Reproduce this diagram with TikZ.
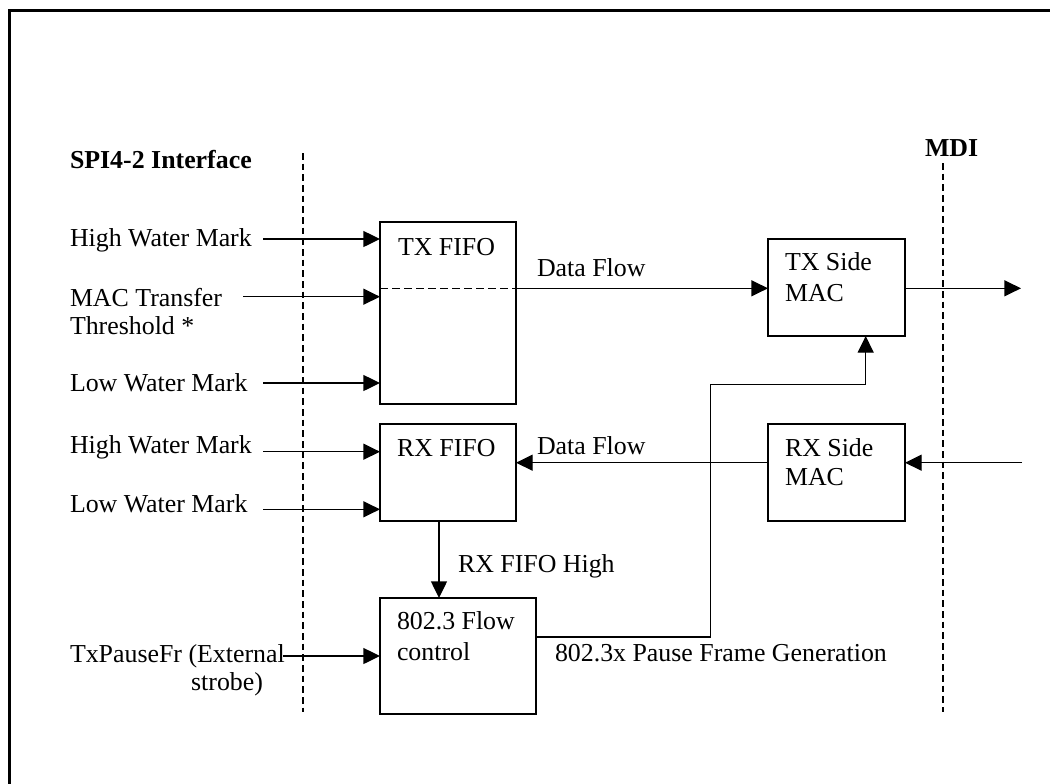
\documentclass[tikz,border=0pt]{standalone}
\usepackage{fontspec}
\setmainfont{Liberation Serif}
\usetikzlibrary{arrows.meta}
\begin{document}
\begin{tikzpicture}[x=0.75pt,y=-0.75pt,
  every node/.style={font=\fontsize{19.4}{23}\selectfont, inner sep=0pt, outer sep=0pt},
  box/.style={draw, line width=1.1pt, anchor=north west},
  lbl/.style={anchor=base west},
  lble/.style={anchor=base east},
  ttl/.style={anchor=base west, font=\fontsize{19.4}{23}\selectfont\bfseries},
  conn/.style={line width=1pt},
  arr/.style={line width=1pt, -{Triangle[length=12.5pt,width=12pt]}},
  divider/.style={line width=1pt, dash pattern=on 5pt off 3pt},
  inner/.style={line width=1pt, dash pattern=on 6pt off 3pt}]
\useasboundingbox (0,0) rectangle (1050,783);
\clip (0,0) rectangle (1050,783);
% outer frame
\draw[line width=2.25pt] (9,800) -- (9,10) -- (1070,10);
% dividers
\coordinate (d1t) at (303,153); \coordinate (d1b) at (303,712);
\coordinate (d2t) at (943,163); \coordinate (d2b) at (943,712);
\draw[divider] (d1t) -- (d1b);
\draw[divider] (d2t) -- (d2b);
% boxes
\node[box, minimum width=102pt, minimum height=136.5pt] (txfifo) at (380,222) {};
\node[box, minimum width=102pt, minimum height=72.75pt] (rxfifo) at (380,424) {};
\node[box, minimum width=117pt, minimum height=87pt] (flow) at (380,598) {};
\node[box, minimum width=102.75pt, minimum height=72.75pt] (txmac) at (768,239) {};
\node[box, minimum width=102.75pt, minimum height=72.75pt] (rxmac) at (768,424) {};
% box texts
\node[lbl] (t1) at (398,255) {TX FIFO};
\node[lbl] (t2) at (397,456.7) {RX FIFO};
\node[lbl] (t3) at (397,629) {802.3 Flow};
\node[lbl] (t4) at (397,660) {control};
\node[lbl] (t5) at (785,270.7) {TX Side};
\node[lbl] (t6) at (785,301) {MAC};
\node[lbl] (t7) at (785,456) {RX Side};
\node[lbl] (t8) at (785,485) {MAC};
% headings
\node[ttl] (spi) at (70,168) {SPI4-2 Interface};
\node[ttl] (mdi) at (925,156) {MDI};
% left labels
\node[lbl] (l1) at (70,246) {High Water Mark};
\node[lbl] (l2) at (70,306) {MAC Transfer};
\node[lbl] (l3) at (70,334) {Threshold *};
\node[lbl] (l4) at (70,391) {Low Water Mark};
\node[lbl] (l5) at (70,453) {High Water Mark};
\node[lbl] (l6) at (70,512.7) {Low Water Mark};
\node[lbl] (l7) at (70,662) {TxPauseFr (External};
\node[lble] (l8) at (263,690.7) {strobe)};
% other labels
\node[lbl] (df1) at (537,276) {Data Flow};
\node[lbl] (df2) at (537,454) {Data Flow};
\node[lbl] (rfh) at (458,572.7) {RX FIFO High};
\node[lbl] (pfg) at (555,661.7) {802.3x Pause Frame Generation};
% input arrow start points
\coordinate (a1) at (263,239);
\coordinate (a2) at (243,296.7);
\coordinate (a3) at (263,383);
\coordinate (a4) at (263,451.7);
\coordinate (a5) at (263,509.3);
\coordinate (a6) at (283,656);
\draw[arr] (a1) -- (a1 -| txfifo.west);
\draw[arr] (a2) -- (a2 -| txfifo.west);
\draw[arr] (a3) -- (a3 -| txfifo.west);
\draw[arr] (a4) -- (a4 -| rxfifo.west);
\draw[arr] (a5) -- (a5 -| rxfifo.west);
\draw[arr] (a6) -- (a6 -| flow.west);
% RX FIFO -> flow control
\coordinate (v1) at (439,521);
\draw[arr] (v1 |- rxfifo.south) -- (v1 |- flow.north);
% TX data flow
\coordinate (th) at (380,288.3);
\draw[inner] (th -| txfifo.west) -- (th -| txfifo.east);
\draw[arr] (th -| txfifo.east) -- (th -| txmac.west);
\coordinate (out) at (1021,288.3);
\draw[arr] (txmac.east |- out) -- (out);
% RX data flow
\coordinate (in) at (1022,462.7);
\draw[arr] (in) -- (in -| rxmac.east);
\draw[arr] (in -| rxmac.west) -- (in -| rxfifo.east);
% pause frame path
\coordinate (p1) at (710.7,637);
\coordinate (p2) at (865.7,384.3);
\draw[arr] (p1 -| flow.east) -- (p1) -- (p1 |- p2) -- (p2) -- (p2 |- txmac.south);
\end{tikzpicture}
\end{document}
